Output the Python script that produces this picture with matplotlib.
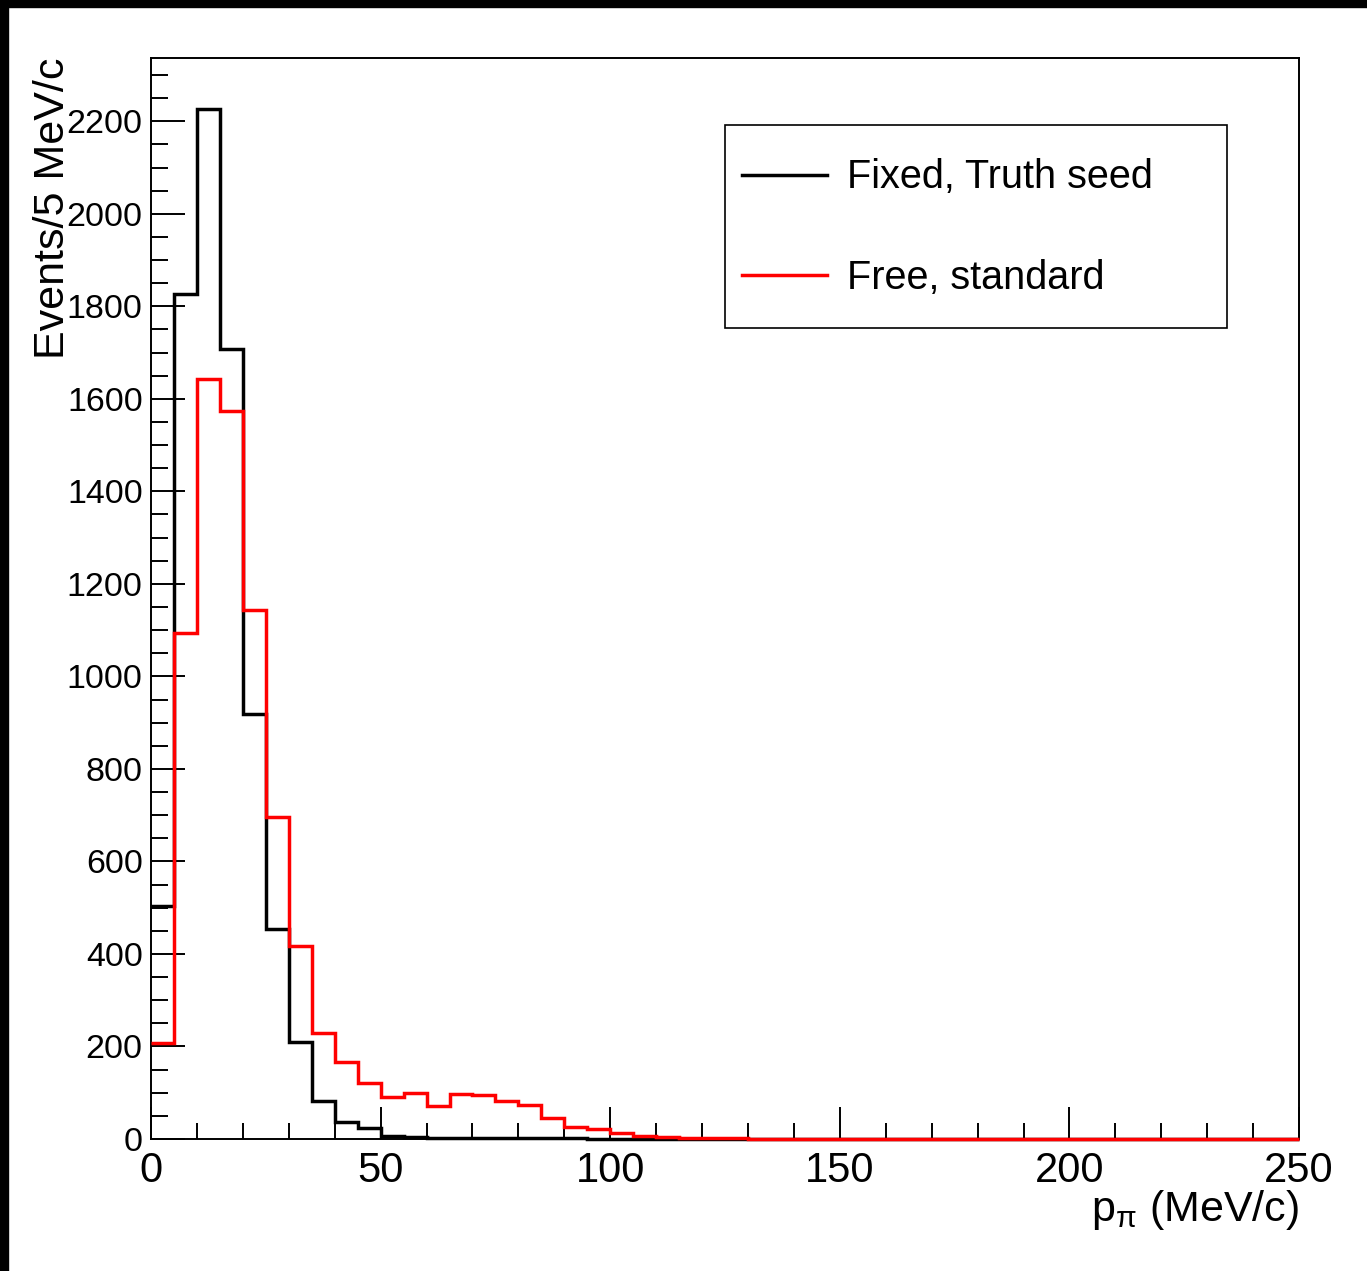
import numpy as np
import matplotlib
matplotlib.use('Agg')
import matplotlib.pyplot as plt
from matplotlib.patches import Rectangle
from matplotlib.lines import Line2D
from matplotlib.ticker import MultipleLocator

plt.rcParams['font.family'] = ['Liberation Sans', 'DejaVu Sans']
plt.rcParams['mathtext.fontset'] = 'custom'
plt.rcParams['mathtext.rm'] = 'Liberation Sans'
plt.rcParams['mathtext.it'] = 'Liberation Sans:italic'

# 5 MeV/c bins from 0 to 250
bin_edges = np.arange(0, 255, 5)

# Fixed, Truth seed
fixed_counts = [504, 1827, 2227, 1707, 918, 454, 210, 81, 37, 24,
                7, 4, 3, 2, 2, 1, 1, 1, 1, 0,
                0, 0, 0, 0, 0, 0, 0, 0, 0, 0,
                0, 0, 0, 0, 0, 0, 0, 0, 0, 0,
                0, 0, 0, 0, 0, 0, 0, 0, 0, 0]

# Free, standard
free_counts = [208, 1094, 1642, 1574, 1144, 695, 418, 229, 166, 122,
               91, 99, 72, 97, 94, 81, 73, 45, 26, 21,
               13, 6, 5, 3, 1, 1, 0, 0, 0, 0,
               0, 0, 0, 0, 0, 0, 0, 0, 0, 0,
               0, 0, 0, 0, 0, 0, 0, 0, 0, 0]

labels = ['Fixed, Truth seed', 'Free, standard']
colors = ['black', 'red']

fig = plt.figure(figsize=(13.67, 12.71), dpi=100)
ax = fig.add_axes([0.1105, 0.1039, 0.8398, 0.8505])

# outlines drawn over the frame so the empty bins sit on the axis line
ax.stairs(fixed_counts, bin_edges, baseline=None, color=colors[0], lw=2.5,
          clip_on=False, zorder=3)
ax.stairs(free_counts, bin_edges, baseline=None, color=colors[1], lw=2.5,
          clip_on=False, zorder=3)

ax.set_xlim(0, 250)
ax.set_ylim(0, 2337)

ax.xaxis.set_major_locator(MultipleLocator(50))
ax.xaxis.set_minor_locator(MultipleLocator(10))
ax.yaxis.set_major_locator(MultipleLocator(200))
ax.yaxis.set_minor_locator(MultipleLocator(50))

ax.tick_params(axis='both', which='both', direction='in', width=1.4,
               top=False, right=False, color='black')
ax.tick_params(axis='y', which='major', length=24.5, labelsize=24.5, pad=6)
ax.tick_params(axis='y', which='minor', length=12)
ax.tick_params(axis='x', which='major', length=23, labelsize=30, pad=8.5)
ax.tick_params(axis='x', which='minor', length=11.5)
for s in ax.spines.values():
    s.set_linewidth(1.4)

ax.set_ylabel('Events/5 MeV/c', fontsize=31, loc='top')
ax.yaxis.set_label_coords(-0.068, 1.0)
ax.set_xlabel(r'p$_{\mathregular{\pi}}$ (MeV/c)', fontsize=31, loc='right')
ax.xaxis.set_label_coords(1.0, -0.045)

handles = [Line2D([], [], color=c, lw=2.5) for c in colors]
leg = ax.legend(handles, labels, loc='upper left', mode='expand',
                bbox_to_anchor=(0.5, 0.751, 0.437, 0.187), borderaxespad=0,
                fontsize=28.5, handlelength=2.15, handletextpad=0.5,
                handleheight=2.3, borderpad=0.42, labelspacing=0.8,
                fancybox=False, framealpha=1, edgecolor='black')
leg.get_frame().set_linewidth(1.2)
# tall handle boxes put the lines above the text; bring them level
for line in leg.get_lines():
    line.set_ydata(np.asarray(line.get_ydata()) - 7.2)

# dark frame along the top and left edges
fig.add_artist(Rectangle((0, 1 - 7 / 1271), 1, 7 / 1271,
                         transform=fig.transFigure, color='black'))
fig.add_artist(Rectangle((0, 0), 8 / 1367, 1,
                         transform=fig.transFigure, color='black'))

fig.savefig('out.png', dpi=100)
